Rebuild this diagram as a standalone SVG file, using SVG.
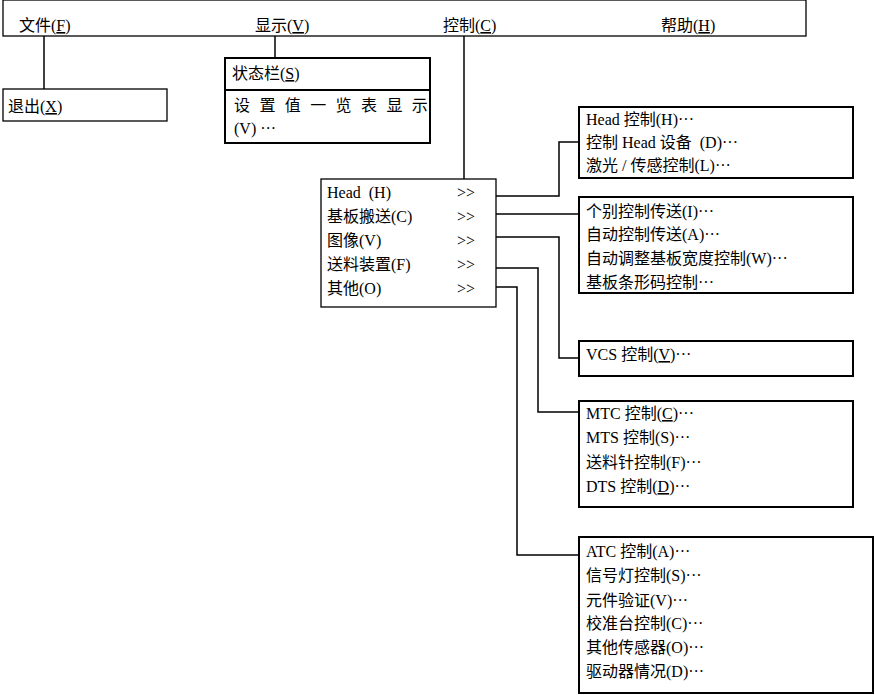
<svg xmlns="http://www.w3.org/2000/svg" width="875" height="695" viewBox="0 0 875 695">
<style>
text{font-family:"Liberation Serif","Noto Sans CJK SC",serif;font-size:16px;fill:#000}
.box{fill:#fff;stroke:#000;stroke-width:2}
.thin{fill:#fff;stroke:#000;stroke-width:1.3}
.con{fill:none;stroke:#000;stroke-width:1.5}
.u{text-decoration:underline}
</style>
<rect width="875" height="695" fill="#fff"/>
<g id="connectors">
<line class="con" x1="44" y1="36" x2="44" y2="89"/>
<line class="con" x1="275" y1="36" x2="275" y2="58"/>
<line class="con" x1="464" y1="36" x2="464" y2="179"/>
<polyline class="con" points="496,196 559,196 559,142 579,142"/>
<polyline class="con" points="496,214 579,214"/>
<polyline class="con" points="496,237 559,237 559,358 579,358"/>
<polyline class="con" points="496,268 538,268 538,412 579,412"/>
<polyline class="con" points="496,287 517,287 517,555 579,555"/>
</g>
<g id="menubar">
<rect class="thin" x="3" y="0" width="803" height="36"/>
<text x="19" y="31">文件(<tspan class="u">F</tspan>)</text>
<text x="255" y="31">显示(<tspan class="u">V</tspan>)</text>
<text x="443" y="31">控制(<tspan class="u">C</tspan>)</text>
<text x="661" y="31">帮助(<tspan class="u">H</tspan>)</text>
</g>
<g id="exit">
<rect class="thin" x="3" y="89" width="164" height="32"/>
<text x="8" y="112">退出(<tspan class="u">X</tspan>)</text>
</g>
<g id="statusbar">
<rect class="box" x="225" y="90" width="205" height="53"/>
<rect class="box" x="225" y="58" width="205" height="32"/>
<text x="232" y="79">状态栏(<tspan class="u">S</tspan>)</text>
<text x="234" y="111" letter-spacing="9.4">设置值一览表显示</text>
<text x="234" y="134">(V) ···</text>
</g>
<g id="control">
<rect class="thin" x="321" y="179" width="175" height="128"/>
<text x="327" y="198">Head&#160;&#160;(H)</text>
<text x="327" y="222">基板搬送(C)</text>
<text x="327" y="246">图像(V)</text>
<text x="327" y="270">送料装置(F)</text>
<text x="327" y="294">其他(O)</text>
<text x="457" y="198">&gt;&gt;</text>
<text x="457" y="222">&gt;&gt;</text>
<text x="457" y="246">&gt;&gt;</text>
<text x="457" y="270">&gt;&gt;</text>
<text x="457" y="294">&gt;&gt;</text>
</g>
<g id="head">
<rect class="box" x="579" y="107" width="274" height="71"/>
<text x="586" y="125">Head 控制(H)···</text>
<text x="586" y="148">控制 Head 设备&#160;&#160;(D)···</text>
<text x="586" y="171">激光 / 传感控制(L)···</text>
</g>
<g id="conveyor">
<rect class="box" x="579" y="197" width="274" height="96"/>
<text x="586" y="217">个别控制传送(I)···</text>
<text x="586" y="240">自动控制传送(A)···</text>
<text x="586" y="264">自动调整基板宽度控制(W)···</text>
<text x="586" y="288">基板条形码控制···</text>
</g>
<g id="vcs">
<rect class="box" x="579" y="341" width="274" height="35"/>
<text x="586" y="360">VCS 控制(<tspan class="u">V</tspan>)···</text>
</g>
<g id="feeder">
<rect class="box" x="579" y="401" width="274" height="106"/>
<text x="586" y="419">MTC 控制(<tspan class="u">C</tspan>)···</text>
<text x="586" y="443">MTS 控制(S)···</text>
<text x="586" y="468">送料针控制(F)···</text>
<text x="586" y="492">DTS 控制(<tspan class="u">D</tspan>)···</text>
</g>
<g id="other">
<rect class="box" x="579" y="537" width="294" height="156"/>
<text x="586" y="557">ATC 控制(A)···</text>
<text x="586" y="581">信号灯控制(S)···</text>
<text x="586" y="606">元件验证(V)···</text>
<text x="586" y="629">校准台控制(C)···</text>
<text x="586" y="653">其他传感器(O)···</text>
<text x="586" y="677">驱动器情况(D)···</text>
</g>
</svg>
